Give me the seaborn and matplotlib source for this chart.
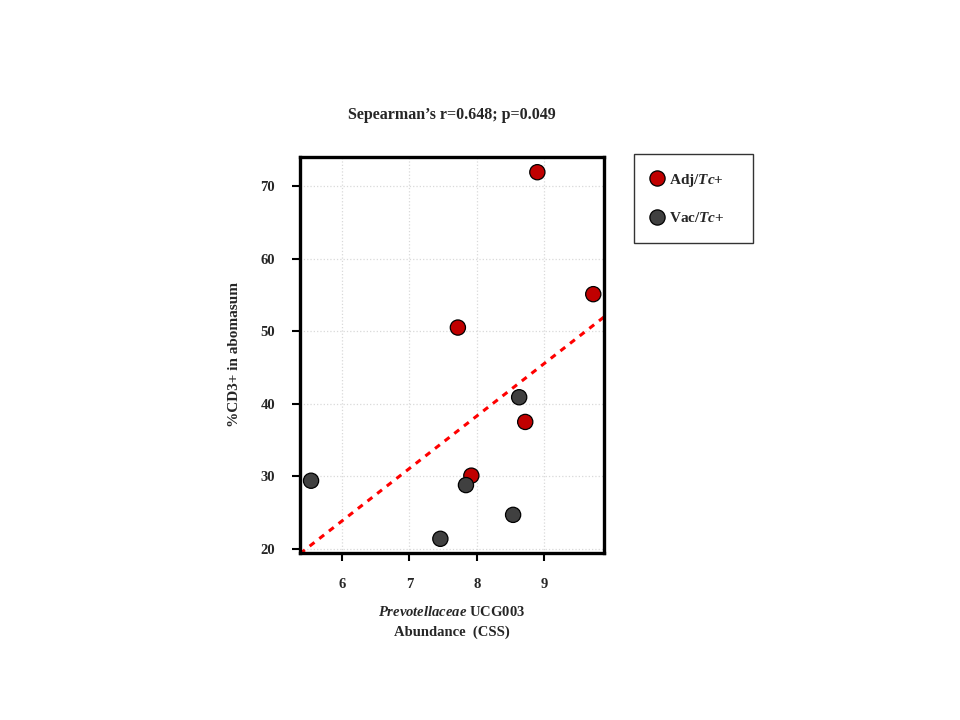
import numpy as np
import pandas as pd
import matplotlib
matplotlib.use("Agg")
import matplotlib.pyplot as plt
import seaborn as sns

# values
adj_x = [8.90, 9.73, 7.72, 8.72, 7.92]
adj_y = [71.9, 55.1, 50.5, 37.5, 30.1]
vac_x = [5.54, 7.84, 8.63, 8.54, 7.46]
vac_y = [29.4, 28.8, 40.9, 24.7, 21.4]
groups = ["Adj/$\\mathit{Tc}$+", "Vac/$\\mathit{Tc}$+"]
colors = ["#C00000", "#404040"]
x_ticks = [6, 7, 8, 9]
y_ticks = [20, 30, 40, 50, 60, 70]

df = pd.DataFrame({
    "abund": adj_x + vac_x,
    "cd3": adj_y + vac_y,
    "group": [groups[0]] * len(adj_x) + [groups[1]] * len(vac_x),
})

sns.set_style("white")
plt.rcParams["font.family"] = ["Liberation Serif", "DejaVu Serif"]
plt.rcParams["font.weight"] = "bold"
plt.rcParams["mathtext.fontset"] = "custom"
plt.rcParams["mathtext.it"] = "Liberation Serif:italic:bold"
plt.rcParams["mathtext.rm"] = "Liberation Serif:bold"

fig = plt.figure(figsize=(9.6, 7.2), dpi=100)
ax = fig.add_axes([0.3125, 0.232, 0.3167, 0.550])
ax.set_xlim(5.376, 9.89)
ax.set_ylim(19.45, 74.0)

ax.grid(True, color="#d9d9d9", linestyle=":", linewidth=0.9)
ax.set_axisbelow(True)

sns.regplot(data=df, x="abund", y="cd3", ax=ax, scatter=False, ci=None,
            truncate=False, color="red",
            line_kws={"linestyle": (0, (2, 2)), "linewidth": 2.2})
sns.scatterplot(data=df, x="abund", y="cd3", hue="group", palette=colors,
                hue_order=groups, s=120, edgecolor="black", linewidth=0.9,
                ax=ax, zorder=5)
ax.set_xlim(5.376, 9.89)
ax.set_ylim(19.45, 74.0)

ax.set_xticks(x_ticks)
ax.set_yticks(y_ticks)
ax.tick_params(axis="both", direction="out", length=6, width=1.5,
               labelsize=10.5, color="black", bottom=True, left=True)
for lab in ax.get_xticklabels() + ax.get_yticklabels():
    lab.set_fontweight("bold")
ax.tick_params(axis="x", pad=12)
ax.tick_params(axis="y", pad=12)
for sp in ax.spines.values():
    sp.set_visible(True)
    sp.set_color("black")
    sp.set_linewidth(2.4)

ax.set_title("Sepearman\u2019s r=0.648; p=0.049", fontsize=11.5,
             fontweight="bold", pad=27)
ax.set_xlabel("$\\mathit{Prevotellaceae}$ UCG003\nAbundance  (CSS)",
              fontsize=10.5, fontweight="bold", labelpad=10, linespacing=1.6)
ax.set_ylabel("%CD3+ in abomasum", fontsize=11, fontweight="bold",
              labelpad=14)

leg = ax.legend(loc="upper left",
                bbox_to_anchor=(634 / 960, 1 - 242 / 720, 119 / 960, 88 / 720),
                bbox_transform=fig.transFigure, mode="expand",
                frameon=True, fancybox=False,
                edgecolor="black", labelspacing=1.5, handlelength=0.7,
                handletextpad=0.45, borderpad=1.15, borderaxespad=0.0,
                prop={"weight": "bold", "size": 11})
leg.get_frame().set_linewidth(1.0)
for t in leg.get_texts():
    t.set_fontweight("bold")

fig.savefig("out.png", dpi=100)
